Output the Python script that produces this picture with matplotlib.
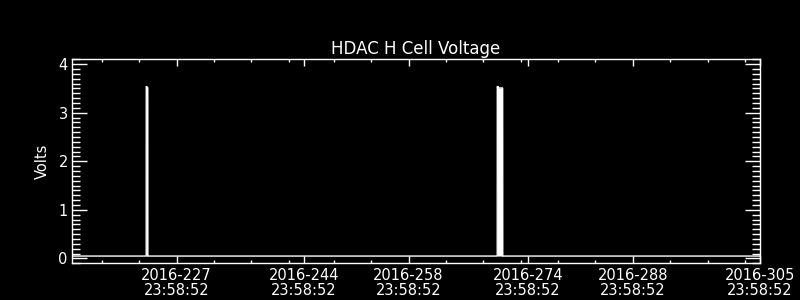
import matplotlib
matplotlib.use("Agg")
import matplotlib.pyplot as plt
from matplotlib.ticker import MultipleLocator, FixedLocator

# ---- data (x = 2016 day-of-year at 23:58:52 offset) ----
times = [213.0, 222.92, 222.93, 223.05, 223.12, 223.13,
         269.86, 269.87, 269.92, 269.97, 270.05, 270.15, 270.25,
         270.35, 270.45, 270.58, 270.59, 306.0]
volts = [0.05, 0.05, 3.54, 3.53, 3.52, 0.05,
         0.05, 3.54, 3.52, 3.54, 3.51, 3.51, 3.51,
         3.51, 3.51, 3.51, 0.05, 0.05]

major_days = [227, 244, 258, 274, 288, 305]
major_labels = ["2016-227\n23:58:52", "2016-244\n23:58:52", "2016-258\n23:58:52",
                "2016-274\n23:58:52", "2016-288\n23:58:52", "2016-305\n23:58:52"]
minor_days = [217, 222, 232, 237, 242, 248, 253, 263, 268, 273,
              278, 283, 293, 298, 303]

title = "HDAC H Cell Voltage"
ylabel = "Volts"

fg = "white"
bg = "black"
plt.rcParams['font.family'] = ['DejaVu Sans']

fig = plt.figure(figsize=(8, 3), dpi=100, facecolor=bg)
ax = fig.add_axes([0.09, 0.1222, 0.86, 0.6801], facecolor=bg)

ax.fill_between(times, volts, 0.05, color=fg, linewidth=0)
ax.plot(times, volts, color=fg, linewidth=1.0)

ax.set_xlim(213.0, 305.0)
ax.set_ylim(-0.1, 4.1)

ax.set_xticks(major_days)
ax.set_xticklabels(major_labels, fontsize=10.5, color=fg, linespacing=0.95)
ax.xaxis.set_minor_locator(FixedLocator(minor_days))

ax.set_yticks([0, 1, 2, 3, 4])
ax.set_yticklabels(["0", "1", "2", "3", "4"], fontsize=10.5, color=fg)
ax.yaxis.set_minor_locator(MultipleLocator(0.1))

ax.tick_params(axis='x', which='major', direction='in', length=5, width=1,
               colors=fg, top=True, bottom=True, pad=3.5)
ax.tick_params(axis='x', which='minor', direction='in', length=2.5, width=1,
               colors=fg, top=True, bottom=True)
ax.tick_params(axis='y', which='major', direction='in', length=10.8, width=1,
               colors=fg, left=True, right=True, pad=3)
ax.tick_params(axis='y', which='minor', direction='in', length=5.8, width=1,
               colors=fg, left=True, right=True)

for s in ax.spines.values():
    s.set_color(fg)
    s.set_linewidth(1)

ax.set_title(title, color=fg, fontsize=12, pad=4)
ax.set_ylabel(ylabel, color=fg, fontsize=10.5, labelpad=6)

fig.savefig("out.png", dpi=100, facecolor=bg)
